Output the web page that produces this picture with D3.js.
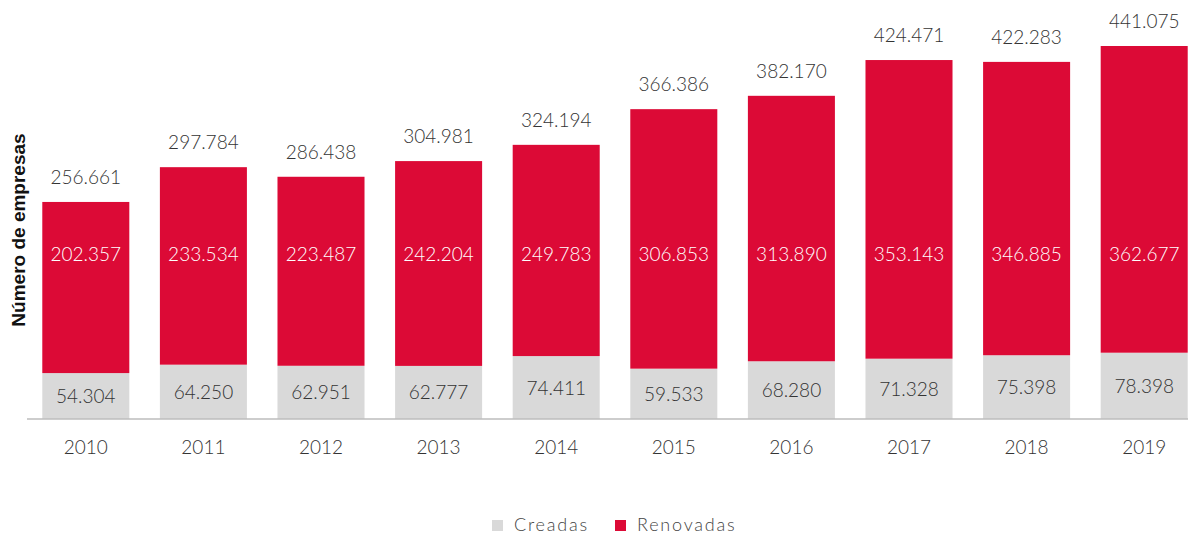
<!DOCTYPE html>
<html>
<head>
<meta charset="utf-8">
<script src="https://cdn.jsdelivr.net/npm/d3@7"></script>
<style>
  body { margin: 0; background: #fff; }
  text { font-family: Lato, "Open Sans", sans-serif; }
</style>
</head>
<body>
<div id="chart"></div>
<script>
// data
var years = ["2010", "2011", "2012", "2013", "2014", "2015", "2016", "2017", "2018", "2019"];
var creadas = [54304, 64250, 62951, 62777, 74411, 59533, 68280, 71328, 75398, 78398];
var renovadas = [202357, 233534, 223487, 242204, 249783, 306853, 313890, 353143, 346885, 362677];
var seriesNames = ["Creadas", "Renovadas"];
var colors = ["#d9d9d9", "#dc0a36"];

var width = 1188, height = 534;
var svg = d3.select("#chart").append("svg")
  .attr("width", width).attr("height", height);

var fmt = d3.formatLocale({decimal: ",", thousands: ".", grouping: [3], currency: ["", "€"]}).format(",d");

var rows = years.map(function (y, i) {
  return {year: y, Creadas: creadas[i], Renovadas: renovadas[i]};
});
var stacked = d3.stack().keys(seriesNames)(rows);

var x = d3.scaleBand().domain(years).range([27, 1203]).paddingInner(0.26).paddingOuter(0.13);
var y = d3.scaleLinear().domain([0, 441075]).range([419, 46]);

// bars
var layers = svg.selectAll("g.layer").data(stacked).enter().append("g")
  .attr("class", "layer")
  .attr("fill", function (d, i) { return colors[i]; });

layers.selectAll("rect").data(function (d) { return d; }).enter().append("rect")
  .attr("x", function (d) { return x(d.data.year); })
  .attr("width", x.bandwidth())
  .attr("y", function (d) { return y(d[1]); })
  .attr("height", function (d) { return y(d[0]) - y(d[1]); });

// axis line
svg.append("line")
  .attr("x1", 27).attr("x2", width)
  .attr("y1", y(0)).attr("y2", y(0))
  .attr("stroke", "#bdbdbd").attr("stroke-width", 1.5);

// year labels
svg.selectAll("text.year").data(years).enter().append("text")
  .attr("class", "year")
  .attr("x", function (d) { return x(d) + x.bandwidth() / 2; })
  .attr("y", 454)
  .attr("text-anchor", "middle")
  .attr("font-size", 19).attr("font-weight", 300)
  .attr("fill", "#333")
  .text(function (d) { return d; });

// creadas labels (centred in grey segment)
svg.selectAll("text.cre").data(stacked[0]).enter().append("text")
  .attr("class", "cre")
  .attr("x", function (d) { return x(d.data.year) + x.bandwidth() / 2; })
  .attr("y", function (d) { return (y(d[0]) + y(d[1])) / 2 + 7; })
  .attr("text-anchor", "middle")
  .attr("font-size", 19).attr("font-weight", 300)
  .attr("fill", "#333")
  .text(function (d) { return fmt(d.data.Creadas); });

// renovadas labels (same height for all)
svg.selectAll("text.ren").data(stacked[1]).enter().append("text")
  .attr("class", "ren")
  .attr("x", function (d) { return x(d.data.year) + x.bandwidth() / 2; })
  .attr("y", y(195000) + 7)
  .attr("text-anchor", "middle")
  .attr("font-size", 19).attr("font-weight", 300)
  .attr("fill", "#fff")
  .text(function (d) { return fmt(d.data.Renovadas); });

// totals
svg.selectAll("text.tot").data(stacked[1]).enter().append("text")
  .attr("class", "tot")
  .attr("x", function (d) { return x(d.data.year) + x.bandwidth() / 2; })
  .attr("y", function (d) { return y(d[1]) - 18; })
  .attr("text-anchor", "middle")
  .attr("font-size", 19).attr("font-weight", 300)
  .attr("fill", "#333")
  .text(function (d) { return fmt(d[1]); });

// y title
svg.append("text")
  .attr("transform", "translate(25," + 230 + ") rotate(-90)")
  .attr("text-anchor", "middle")
  .style("font-family", "'Liberation Sans', Arial, sans-serif")
  .attr("font-size", 19).attr("font-weight", "bold")
  .attr("fill", "#111")
  .text("Número de empresas");

// legend
var legendX = [492, 615];
var leg = svg.selectAll("g.leg").data(seriesNames).enter().append("g")
  .attr("class", "leg")
  .attr("transform", function (d, i) { return "translate(" + legendX[i] + ",520)"; });
leg.append("rect").attr("width", 11).attr("height", 11)
  .attr("fill", function (d, i) { return colors[i]; });
leg.append("text").attr("x", 22).attr("y", 11)
  .attr("font-size", 18).attr("font-weight", 300)
  .attr("letter-spacing", 1.8)
  .attr("fill", "#444")
  .text(function (d) { return d; });
</script>
</body>
</html>
